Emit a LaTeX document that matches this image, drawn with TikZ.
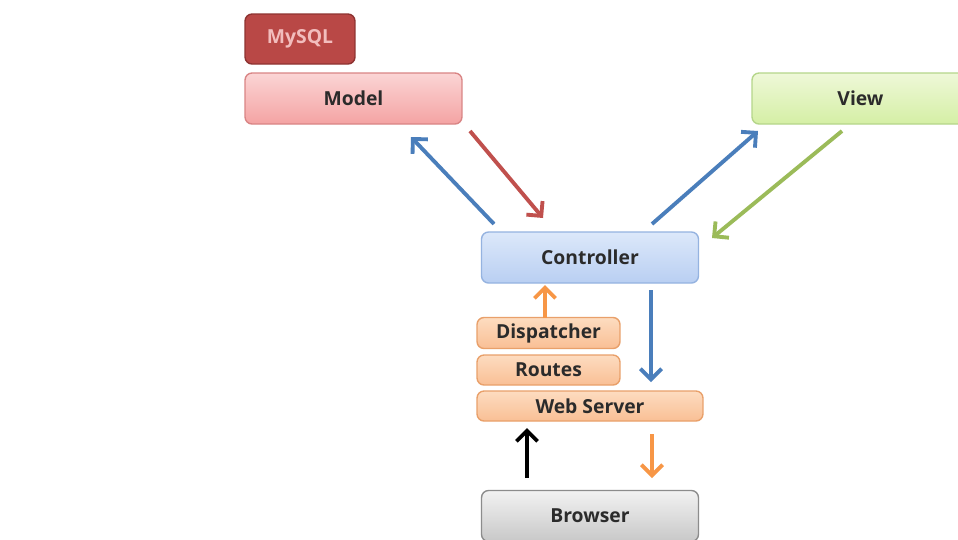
\documentclass[tikz,border=0pt]{standalone}
\usepackage{fontspec}
\setmainfont{Open Sans}
\usetikzlibrary{arrows.meta}
\definecolor{boxtext}{HTML}{2B2B2B}
\definecolor{sqlfill}{HTML}{B94846}
\definecolor{sqldraw}{HTML}{8E3331}
\definecolor{sqltext}{HTML}{F2BDBD}
\definecolor{modeltop}{HTML}{FBD5D5}
\definecolor{modelbot}{HTML}{F4A3A3}
\definecolor{modeldraw}{HTML}{D98585}
\definecolor{viewtop}{HTML}{EEF8D8}
\definecolor{viewbot}{HTML}{D5EFA5}
\definecolor{viewdraw}{HTML}{B5D68A}
\definecolor{ctrltop}{HTML}{DCE8FA}
\definecolor{ctrlbot}{HTML}{B9CFF2}
\definecolor{ctrldraw}{HTML}{95B3E0}
\definecolor{webtop}{HTML}{FDDCC0}
\definecolor{webbot}{HTML}{F9BF95}
\definecolor{webdraw}{HTML}{E9A06A}
\definecolor{brtop}{HTML}{F2F2F2}
\definecolor{brbot}{HTML}{C8C8C8}
\definecolor{brdraw}{HTML}{8C8C8C}
\definecolor{linkblue}{HTML}{4A7EBB}
\definecolor{linkred}{HTML}{C0504D}
\definecolor{linkgreen}{HTML}{9BBB59}
\definecolor{linkorange}{HTML}{F79646}

\begin{document}
\begin{tikzpicture}[x=0.02cm,y=-0.02cm,
  box/.style={rounded corners=4pt,line width=0.8pt,text=boxtext,
    font=\bfseries\fontsize{11}{13}\selectfont},
  bigbox/.style={box,minimum width=4.34cm,minimum height=1.02cm},
  webbox/.style={box,top color=webtop,bottom color=webbot,draw=webdraw,minimum height=0.6cm},
  link/.style={line width=2.2pt,-{Straight Barb[length=6pt,width=12pt]}}]
\fill[white] (0,0) rectangle (958,539);
\useasboundingbox (0,0) rectangle (958,539);

\node[box,fill=sqlfill,draw=sqldraw,text=sqltext,minimum width=2.2cm,minimum height=1cm] (mysql) at (300,39) {MySQL};
\node[bigbox,top color=modeltop,bottom color=modelbot,draw=modeldraw] (model) at (353.5,98.5) {Model};
\node[bigbox,top color=viewtop,bottom color=viewbot,draw=viewdraw] (view) at (860.5,98.5) {View};
\node[bigbox,top color=ctrltop,bottom color=ctrlbot,draw=ctrldraw] (ctrl) at (590,257.5) {Controller};
\node[webbox,minimum width=2.86cm] (disp) at (548.5,333) {Dispatcher};
\node[webbox,minimum width=2.86cm] (routes) at (548.5,370) {Routes};
\node[webbox,minimum width=4.52cm] (web) at (590,406) {Web Server};
\node[bigbox,top color=brtop,bottom color=brbot,draw=brdraw] (browser) at (590,516) {Browser};

\coordinate (ctm) at (494,224);
\coordinate (mtc) at (411,137);
\coordinate (mfrom) at (470,131);
\coordinate (cto) at (543,218);
\coordinate (ctv) at (652,224);
\coordinate (vto) at (758,131);
\coordinate (vfrom) at (842,131);
\coordinate (cin) at (712,238);
\coordinate (dup) at (545,318);
\coordinate (dto) at (545,285);
\coordinate (cdown) at (651,290);
\coordinate (wdown) at (651,382);
\coordinate (bup) at (527,478);
\coordinate (wup) at (527,428);
\coordinate (wout) at (652,434);
\coordinate (bin) at (652,478);

\draw[link,linkblue] (ctm) -- (mtc);
\draw[link,linkred] (mfrom) -- (cto);
\draw[link,linkblue] (ctv) -- (vto);
\draw[link,linkgreen] (vfrom) -- (cin);
\draw[link,linkorange] (dup) -- (dto);
\draw[link,linkblue] (cdown) -- (wdown);
\draw[link,black] (bup) -- (wup);
\draw[link,linkorange] (wout) -- (bin);
\end{tikzpicture}
\end{document}
